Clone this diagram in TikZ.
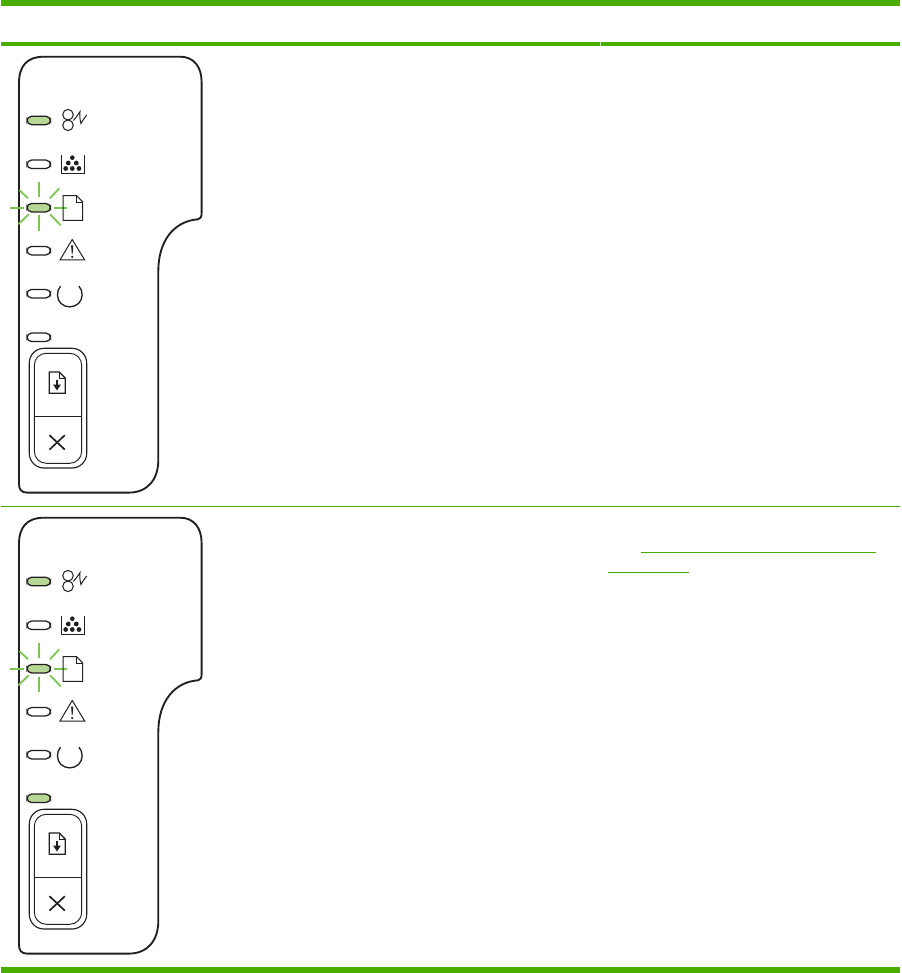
\documentclass[tikz,border=0pt]{standalone}
\definecolor{hpgreen}{HTML}{4BAD00}
\definecolor{ledfill}{HTML}{B7D795}
\definecolor{rayg}{HTML}{7CC652}
\definecolor{ink}{HTML}{231F20}
\tikzset{
  panelline/.style={draw=ink,line width=1.4pt,line join=round},
  iconline/.style={draw=ink,line width=0.75pt,line join=miter},
  ledbox/.style={draw=ink,line width=0.95pt,rounded corners=3.4pt},
  ray/.style={draw=rayg,line width=1.35pt},
  bar/.style={fill=hpgreen,draw=none},
  linkline/.style={draw=hpgreen,line width=0.75pt}
}
\newcommand{\ledat}[2]{\draw[ledbox,fill=#2] (27,#1-4.2) rectangle (50.5,#1+4.2);}
\newcommand{\hppanel}[2]{%
\begin{scope}[shift={(0,#1)}]
  \draw[panelline] (19,83) .. controls (19,66) and (27,56.7) .. (44,56.7)
     -- (180,56.7) .. controls (194,56.7) and (201.6,67) .. (201.6,82)
     -- (201.6,213) .. controls (201.6,217) and (200.5,219) .. (198,219.3)
     .. controls (174,221) and (158.3,241) .. (158.3,271)
     -- (158.3,460) .. controls (158.3,480) and (147,492.6) .. (129,492.6)
     -- (27,492.6) .. controls (21.5,492.6) and (19,489.5) .. (19,484) -- cycle;
  % LEDs
  \ledat{120.5}{ledfill}
  \ledat{164.3}{white}
  \ledat{207.7}{ledfill}
  \ledat{250.7}{white}
  \ledat{293.7}{white}
  \ledat{337.3}{#2}
  % rays
  \draw[ray] (10,207.7) -- (23.5,207.7);
  \draw[ray] (53.5,207.7) -- (67,207.7);
  \draw[ray] (39.3,182.3) -- (39.3,196.7);
  \draw[ray] (39.3,215.5) -- (39.3,231);
  \draw[ray] (19.3,190) -- (28,198.3);
  \draw[ray] (59.3,188.3) -- (50,198.3);
  \draw[ray] (18.3,224.3) -- (28.7,214.3);
  \draw[ray] (60.7,225.3) -- (50,214.3);
  % jam icon
  \draw[iconline] (68,114.7) circle[radius=5.3];
  \draw[iconline] (68,125.3) circle[radius=5.3];
  \draw[iconline] (73.3,120.5) .. controls (76,118) and (79,113) .. (80,111.7)
     .. controls (79.5,116) and (80,120) .. (81,123.5)
     .. controls (83,120) and (85,117) .. (86.7,115);
  % toner icon
  \draw[iconline,line width=0.6pt] (61.3,155) -- (61.3,173.4) -- (84.7,173.4) -- (84.7,155);
  \fill[ink] (72.3,157.7) circle[radius=2.3]
     (68.3,163) circle[radius=2.4] (76.3,163) circle[radius=2.4]
     (65.7,168.5) circle[radius=2.4] (72.3,168.5) circle[radius=2.4] (79,168.5) circle[radius=2.4];
  % paper icon
  \draw[iconline] (63,195.7) -- (76.7,195.7) -- (82.7,201.9) -- (82.7,220.3) -- (63,220.3) -- cycle;
  \draw[iconline,line width=0.5pt] (76.7,195.7) -- (76.7,201.9) -- (82.7,201.9);
  % warning icon
  \draw[iconline] (72.2,239.5) -- (84.7,260) -- (60,260) -- cycle;
  \fill[ink] (71.1,245.5) -- (73.3,245.5) -- (72.6,254) -- (71.8,254) -- cycle;
  \fill[ink] (72.2,256.9) circle[radius=1.2];
  % power icon
  \draw[draw=ink,line width=1pt] (60.5,286.2) .. controls (56,291) and (56.8,300) .. (61,303.5)
     .. controls (66,308) and (73.5,308) .. (78.5,303.5)
     .. controls (83,299.5) and (83.5,291) .. (79,286.2);
  % button
  \draw[draw=ink,line width=0.85pt,rounded corners=11pt] (29.3,348.3) rectangle (86.7,468);
  \draw[draw=ink,line width=0.7pt,rounded corners=9pt] (34.3,353.3) rectangle (81.7,463.3);
  \draw[draw=ink,line width=0.7pt] (34.3,416.2) -- (81.7,416.2);
  % download icon
  \draw[draw=ink,line width=0.95pt,line join=miter] (49.3,372) -- (59.3,372) -- (65.3,378.2) -- (65.3,393.2) -- (49.3,393.2) -- cycle;
  \draw[draw=ink,line width=0.4pt] (59.3,372) -- (59.3,378.2) -- (65.3,378.2);
  \draw[draw=ink,line width=0.9pt] (57,379.5) -- (57,386);
  \fill[ink] (53.2,384.7) -- (60.8,384.7) -- (57,390.5) -- cycle;
  % cancel icon
  \draw[draw=ink,line width=1.25pt] (49.5,435.2) -- (64.8,449.6);
  \draw[draw=ink,line width=1.25pt] (64.8,435.2) -- (49.5,449.6);
\end{scope}}
\begin{document}
\begin{tikzpicture}[x=0.75pt,y=-0.75pt]
  \useasboundingbox (0,0) rectangle (901,973);
  \fill[white] (0,0) rectangle (901,973);
  \fill[bar] (1,0) rectangle (900,6);
  \fill[bar] (1,42) rectangle (900,46);
  \draw[draw=hpgreen,line width=0.75pt] (1,506.7) -- (900,506.7);
  \fill[bar] (1,967) rectangle (900,973);
  \draw[draw=white!70!hpgreen,line width=0.4pt] (600.3,42) -- (600.3,46);
  \hppanel{0}{white}
  \hppanel{461}{ledfill}
  \draw[linkline] (641,552.4) -- (876,552.4);
  \draw[linkline] (608,572.4) -- (689,572.4);
\end{tikzpicture}
\end{document}
